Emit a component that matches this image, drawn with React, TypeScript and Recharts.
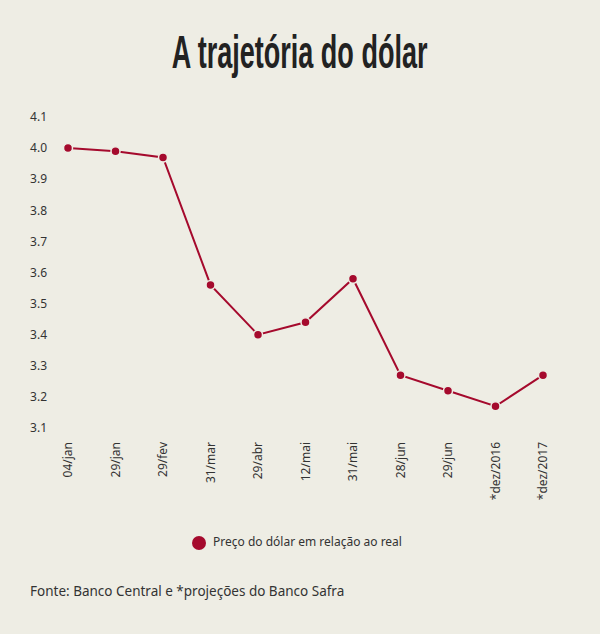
import React from 'react';
import { LineChart, Line, XAxis, YAxis, Legend } from 'recharts';

const categories = ['04/jan', '29/jan', '29/fev', '31/mar', '29/abr', '12/mai', '31/mai', '28/jun', '29/jun', '*dez/2016', '*dez/2017'];
const dollarValues = [4.0, 3.99, 3.97, 3.56, 3.4, 3.44, 3.58, 3.27, 3.22, 3.17, 3.27];
const yTicks = [3.1, 3.2, 3.3, 3.4, 3.5, 3.6, 3.7, 3.8, 3.9, 4.0, 4.1];
const seriesName = 'Preço do dólar em relação ao real';
const titleText = 'A trajetória do dólar';
const sourceText = 'Fonte: Banco Central e *projeções do Banco Safra';

const data = categories.map((c, i) => ({ cat: c, value: dollarValues[i] }));

const BG = '#EEEDE4';
const RED = '#A50A2D';
const FONT = '"Noto Sans", "DejaVu Sans", sans-serif';

const XTick = (props: any) => {
  const { x, y, payload } = props;
  return (
    <g transform={`translate(${x},${y})`}>
      <text
        x={0}
        y={0}
        dy="0.35em"
        transform="rotate(-90)"
        textAnchor="end"
        fill="#333"
        fontSize={12}
        fontFamily={FONT}
      >
        {payload.value}
      </text>
    </g>
  );
};

export default function App() {
  return (
    <div style={{ position: 'absolute', left: 0, top: 0, width: 600, height: 634, background: BG, overflow: 'hidden' }}>
      <div
        style={{
          position: 'absolute',
          left: 0,
          top: 22,
          width: 600,
          textAlign: 'center',
          fontFamily: '"Liberation Sans Narrow", "Liberation Sans", sans-serif',
          fontWeight: 'bold',
          fontSize: 47,
          lineHeight: '60px',
          color: '#222',
          whiteSpace: 'nowrap',
          transform: 'scaleX(0.575)',
          transformOrigin: '299px 0',
        }}
      >
        {titleText}
      </div>
      <div style={{ position: 'absolute', left: 0, top: 0 }}>
        <LineChart
          width={600}
          height={570}
          data={data}
          margin={{ top: 117, right: 30, left: 0, bottom: 72 }}
        >
          <XAxis
            dataKey="cat"
            interval={0}
            axisLine={false}
            tickLine={false}
            tickSize={0}
            tickMargin={14}
            height={70}
            padding={{ left: 18, right: 27 }}
            tick={<XTick />}
          />
          <YAxis
            domain={[3.1, 4.1]}
            ticks={yTicks}
            interval={0}
            axisLine={false}
            tickLine={false}
            tickSize={0}
            tickMargin={3}
            width={50}
            tickFormatter={(v: number) => v.toFixed(1)}
            tick={{ fill: '#333', fontSize: 12, fontFamily: FONT }}
          />
          <Legend
            layout="horizontal"
            verticalAlign="middle"
            align="center"
            iconType="circle"
            iconSize={14}
            wrapperStyle={{ top: 533, left: 2, width: 600, fontFamily: FONT, fontSize: 12 }}
            formatter={(v: string) => <span style={{ color: '#333', marginLeft: 3 }}>{v}</span>}
          />
          <Line
            type="linear"
            dataKey="value"
            name={seriesName}
            stroke={RED}
            strokeWidth={2}
            dot={{ r: 4.5, fill: RED, stroke: BG, strokeWidth: 1.5 }}
            isAnimationActive={false}
          />
        </LineChart>
      </div>
      <div
        style={{
          position: 'absolute',
          left: 30,
          top: 582,
          fontFamily: FONT,
          fontSize: 13.5,
          color: '#333',
          whiteSpace: 'nowrap',
        }}
      >
        {sourceText}
      </div>
    </div>
  );
}
